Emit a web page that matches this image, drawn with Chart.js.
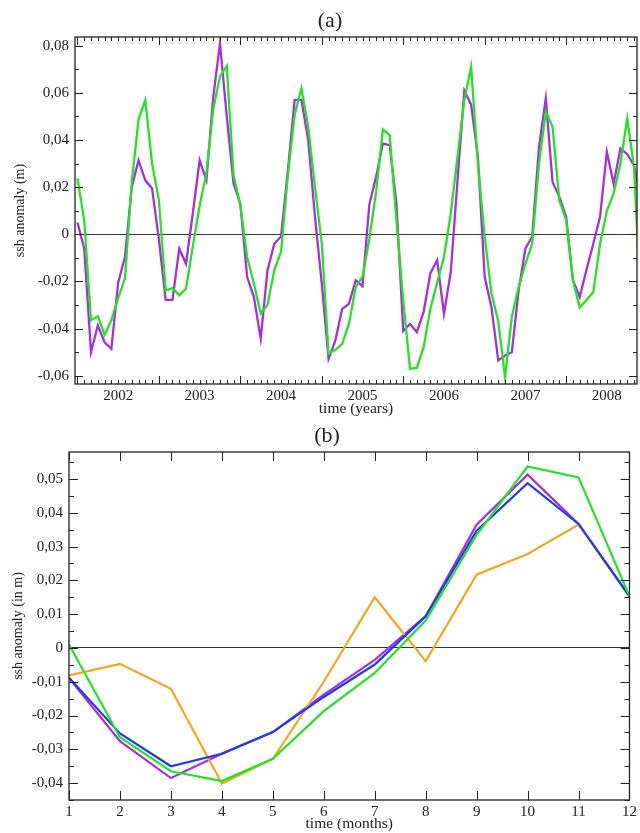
<!DOCTYPE html>
<html>
<head>
<meta charset="utf-8">
<script src="https://cdn.jsdelivr.net/npm/chart.js@4.4.1/dist/chart.umd.min.js"></script>
<style>
    html, body { margin: 0; padding: 0; background: #fff; }
    #wrapA { position: absolute; left: 0; top: 0; width: 640px; height: 418px; }
    #wrapB { position: absolute; left: 0; top: 418px; width: 640px; height: 415px; }
</style>
</head>
<body>
<div id="wrapA"><canvas id="chartA"></canvas></div>
<div id="wrapB"><canvas id="chartB"></canvas></div>
<script>
// Panel (a): monthly ssh anomaly, starting mid-2001
const firstMonthA = 2001.5;
const greenA = [
    0.0237, 0.006, -0.0365, -0.0347, -0.0426, -0.0365, -0.027, -0.0188, 0.022, 0.0487, 0.0569, 0.030,
    0.0144, -0.0238, -0.0228, -0.0259, -0.0231, -0.005, 0.012, 0.026, 0.053, 0.067, 0.0714, 0.025,
    0.0123, -0.0096, -0.021, -0.0337, -0.030, -0.0153, -0.0075, 0.025, 0.0506, 0.062, 0.0456, 0.020,
    -0.004, -0.0507, -0.049, -0.0465, -0.038, -0.0224, -0.018, -0.002, 0.018, 0.0445, 0.042, 0.006,
    -0.028, -0.057, -0.0567, -0.048, -0.0316, -0.0205, -0.0096, 0.0088, 0.0329, 0.057, 0.071, 0.030,
    -0.001, -0.025, -0.037, -0.0606, -0.0351, -0.0224, -0.0125, -0.004, 0.030, 0.052, 0.0456, 0.0144,
    0.006, -0.0195, -0.031, -0.028, -0.0245, -0.004, 0.010, 0.0173, 0.030, 0.049, 0.0286, -0.03
];
const purpleA = [
    0.005, -0.006, -0.050, -0.0387, -0.0458, -0.0486, -0.0205, -0.0096, 0.020, 0.0314, 0.0229, 0.0194,
    -0.002, -0.0278, -0.0278, -0.0061, -0.0125, 0.009, 0.0314, 0.023, 0.058, 0.081, 0.050, 0.0215,
    0.013, -0.018, -0.0266, -0.0443, -0.0153, -0.004, -0.0009, 0.027, 0.057, 0.057, 0.040, 0.0074,
    -0.021, -0.0528, -0.045, -0.0316, -0.0295, -0.0195, -0.022, 0.0125, 0.0244, 0.0385, 0.0378, 0.013,
    -0.041, -0.038, -0.0415, -0.033, -0.0165, -0.011, -0.0337, -0.016, 0.023, 0.061, 0.055, 0.033,
    -0.018, -0.031, -0.0535, -0.0514, -0.050, -0.0238, -0.006, -0.0011, 0.037, 0.0576, 0.0222, 0.0159,
    0.0074, -0.0195, -0.0266, -0.015, -0.004, 0.0074, 0.035, 0.0215, 0.0364, 0.034, 0.0293, 0.015
];
const yearTicksA = [2002, 2003, 2004, 2005, 2006, 2007, 2008];
const yTicksA = [-0.06, -0.04, -0.02, 0, 0.02, 0.04, 0.06, 0.08];
const yTickLabelsA = ['-0,06', '-0,04', '-0,02', '0', '0,02', '0,04', '0,06', '0,08'];

// Panel (b): mean annual cycle
const monthsB = [1, 2, 3, 4, 5, 6, 7, 8, 9, 10, 11, 12];
const purpleB = [-0.0089, -0.0276, -0.0385, -0.0313, -0.0249, -0.0138, -0.0035, 0.0094, 0.0365, 0.0513, 0.0367, 0.0153];
const blueB = [-0.0088, -0.0253, -0.035, -0.0313, -0.0249, -0.0145, -0.0049, 0.0094, 0.0347, 0.0488, 0.0367, 0.0153];
const greenB = [0.001, -0.0264, -0.0365, -0.0394, -0.0328, -0.0187, -0.0074, 0.0081, 0.0335, 0.0537, 0.0505, 0.0153];
const orangeB = [-0.0081, -0.0047, -0.0121, -0.0401, -0.0328, -0.010, 0.015, -0.0039, 0.0217, 0.0278, 0.0365, 0.0153];
const yTicksB = [-0.04, -0.03, -0.02, -0.01, 0, 0.01, 0.02, 0.03, 0.04, 0.05];
const yTickLabelsB = ['-0,04', '-0,03', '-0,02', '-0,01', '0', '0,01', '0,02', '0,03', '0,04', '0,05'];

const SERIF = "'Liberation Serif', 'DejaVu Serif', serif";
const INK = '#222';
const GREEN = '#22e322';
const PURPLE = '#a52ee0';
const BLUE = '#1a3cf0';
const ORANGE = '#f7a51c';

// inward tick marks on all four sides plus the box
const frameTicks = {
    id: 'frameTicks',
    afterDatasetsDraw(chart, args, opts) {
        const { ctx, chartArea: a, scales: { x, y } } = chart;
        const inside = (p, lo, hi) => p >= lo - 0.5 && p <= hi + 0.5;
        ctx.save();
        ctx.strokeStyle = INK;
        ctx.lineWidth = 1;
        ctx.beginPath();
        const xMark = (v, len) => {
            const px = Math.round(x.getPixelForValue(v)) + 0.5;
            if (!inside(px, a.left, a.right)) return;
            ctx.moveTo(px, a.bottom); ctx.lineTo(px, a.bottom - len);
            ctx.moveTo(px, a.top); ctx.lineTo(px, a.top + len);
        };
        const yMark = (v, len) => {
            const py = Math.round(y.getPixelForValue(v)) + 0.5;
            if (!inside(py, a.top, a.bottom)) return;
            ctx.moveTo(a.left, py); ctx.lineTo(a.left + len, py);
            ctx.moveTo(a.right, py); ctx.lineTo(a.right - len, py);
        };
        opts.xMajor.forEach(v => xMark(v, opts.majorLen));
        opts.xMinor.forEach(v => xMark(v, opts.minorLen));
        opts.yMajor.forEach(v => yMark(v, opts.majorLen));
        opts.yMinor.forEach(v => yMark(v, opts.minorLen));
        ctx.stroke();
        ctx.lineWidth = 1.3;
        ctx.strokeRect(a.left, a.top, a.width, a.height);
        ctx.restore();
    }
};

const panelLabel = {
    id: 'panelLabel',
    afterDraw(chart, args, opts) {
        const ctx = chart.ctx;
        ctx.save();
        ctx.fillStyle = INK;
        ctx.font = `22px ${SERIF}`;
        ctx.textAlign = 'center';
        ctx.textBaseline = 'middle';
        ctx.fillText(opts.text, opts.x, opts.y);
        ctx.restore();
    }
};

function steps(from, to, step) {
    const out = [];
    for (let v = from; v <= to + step / 2; v += step) out.push(Math.round(v * 10000) / 10000);
    return out;
}

function yAxis(ticks, labels, title, width, titlePad, min, max) {
    return {
        min: min,
        max: max,
        afterBuildTicks: s => { s.ticks = ticks.map(v => ({ value: v })); },
        afterFit: s => { s.width = width; },
        ticks: { callback: (v, i) => labels[i], font: { family: SERIF, size: 15 }, color: INK, padding: 6, autoSkip: false },
        grid: { color: c => (c.tick && c.tick.value === 0 ? '#333' : 'rgba(0,0,0,0)'), drawTicks: false, lineWidth: 1 },
        border: { display: false },
        title: { display: true, text: title, font: { family: SERIF, size: 14 }, color: INK, padding: { top: titlePad, bottom: 0 } }
    };
}

function xAxis(ticks, title, height, min, max) {
    return {
        type: 'linear',
        min: min,
        max: max,
        afterBuildTicks: s => { s.ticks = ticks.map(v => ({ value: v })); },
        afterFit: s => { s.height = height; },
        ticks: { callback: v => String(v), font: { family: SERIF, size: 15 }, color: INK, padding: 3, maxRotation: 0, autoSkip: false },
        grid: { display: false, drawTicks: false },
        border: { display: false },
        title: { display: true, text: title, font: { family: SERIF, size: 15.5 }, color: INK, padding: { top: 0, bottom: 0 } }
    };
}

function series(xs, ys, color, width) {
    return {
        data: ys.map((v, i) => ({ x: xs[i], y: v })),
        borderColor: color,
        borderWidth: width,
        pointRadius: 0,
        tension: 0,
        fill: false
    };
}

// Panel (a)
const monthsA = greenA.map((v, i) => firstMonthA + i / 12);
new Chart(document.getElementById('chartA'), {
    type: 'line',
    data: {
        datasets: [
            series(monthsA, greenA, GREEN, 2.3),
            series(monthsA, purpleA, PURPLE, 2.3)
        ]
    },
    options: {
        responsive: true,
        maintainAspectRatio: false,
        animation: false,
        layout: { padding: { top: 37, right: 3, left: 0, bottom: 0 } },
        plugins: {
            legend: { display: false },
            tooltip: { enabled: false },
            panelLabel: { text: '(a)', x: 330, y: 21 },
            frameTicks: {
                xMajor: steps(2001.5, 2008.5, 1),
                xMinor: steps(2001.5, 2008.5, 1 / 12),
                yMajor: yTicksA,
                yMinor: steps(-0.06, 0.08, 0.01),
                majorLen: 8,
                minorLen: 4
            }
        },
        scales: {
            x: xAxis(yearTicksA, 'time (years)', 34, 2001.47, 2008.37),
            y: yAxis(yTicksA, yTickLabelsA, 'ssh anomaly (m)', 75, 12, -0.0635, 0.0837)
        }
    },
    plugins: [frameTicks, panelLabel]
});

// Panel (b)
new Chart(document.getElementById('chartB'), {
    type: 'line',
    data: {
        datasets: [
            series(monthsB, greenB, GREEN, 2.2),
            series(monthsB, blueB, BLUE, 2.2),
            series(monthsB, orangeB, ORANGE, 2.2),
            series(monthsB, purpleB, PURPLE, 2.2)
        ]
    },
    options: {
        responsive: true,
        maintainAspectRatio: false,
        animation: false,
        layout: { padding: { top: 34, right: 7, left: 0, bottom: 0 } },
        plugins: {
            legend: { display: false },
            tooltip: { enabled: false },
            panelLabel: { text: '(b)', x: 327, y: 18 },
            frameTicks: {
                xMajor: monthsB,
                xMinor: [],
                yMajor: yTicksB,
                yMinor: steps(-0.045, 0.055, 0.01),
                majorLen: 9,
                minorLen: 5
            }
        },
        scales: {
            x: xAxis(monthsB, 'time (months)', 33, 1, 12),
            y: yAxis(yTicksB, yTickLabelsB, 'ssh anomaly (in m)', 69, 10, -0.045, 0.058)
        }
    },
    plugins: [frameTicks, panelLabel]
});
</script>
</body>
</html>
